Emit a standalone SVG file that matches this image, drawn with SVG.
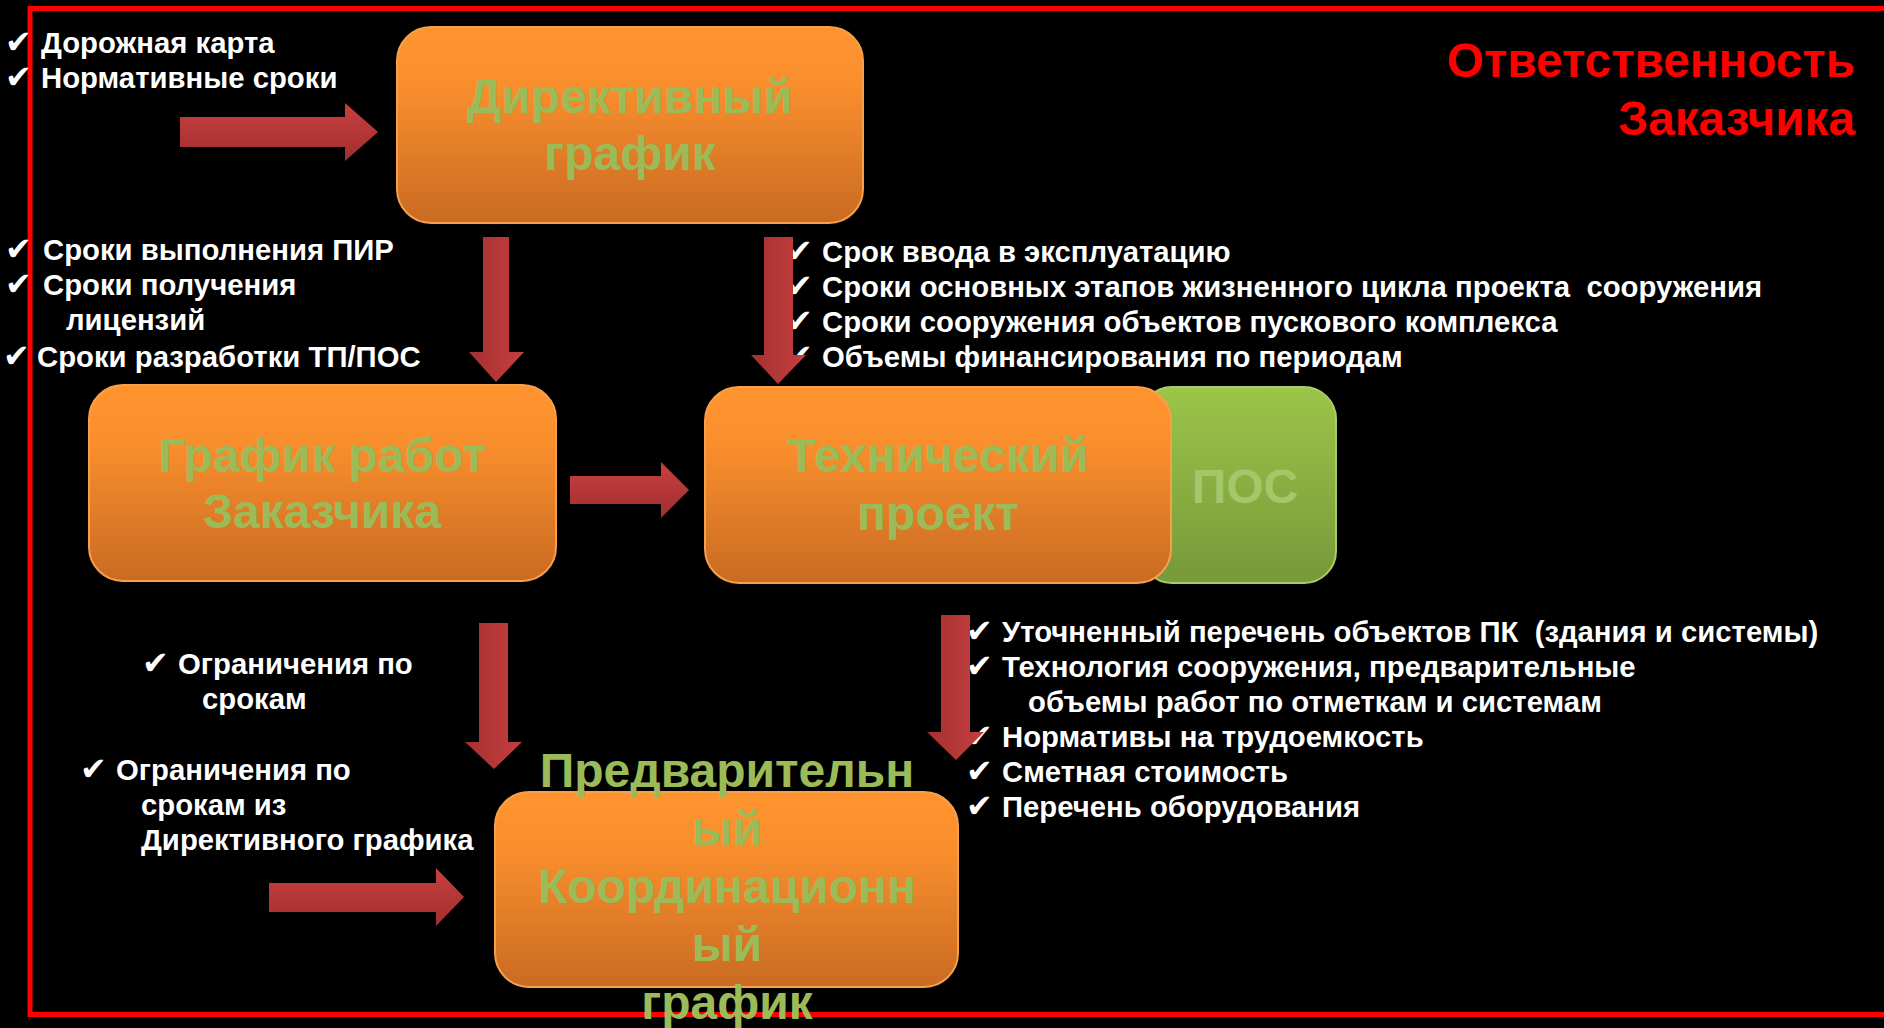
<svg xmlns="http://www.w3.org/2000/svg" width="1884" height="1028" viewBox="0 0 1884 1028">
<defs>
<linearGradient id="gOrange" x1="0" y1="0" x2="0" y2="1">
<stop offset="0" stop-color="#FF942F"/>
<stop offset="0.3" stop-color="#F98E2D"/>
<stop offset="1" stop-color="#C96B22"/>
</linearGradient>
<linearGradient id="gGreen" x1="0" y1="0" x2="0" y2="1">
<stop offset="0" stop-color="#9CC549"/>
<stop offset="1" stop-color="#76993A"/>
</linearGradient>
<linearGradient id="gArrowH" x1="0" y1="0" x2="0" y2="1">
<stop offset="0" stop-color="#C93F3F"/>
<stop offset="1" stop-color="#A02F2F"/>
</linearGradient>
<linearGradient id="gArrowV" x1="0" y1="0" x2="1" y2="0">
<stop offset="0" stop-color="#A33131"/>
<stop offset="1" stop-color="#C63E3E"/>
</linearGradient>
<style>
.frame{fill:none;stroke:#FF0000;stroke-width:5}
.title{font-family:"Liberation Sans",Arial,sans-serif;font-weight:bold;font-size:47.7px;fill:#FF0000;text-anchor:end}
.lbl{font-family:"Liberation Sans",Arial,sans-serif;font-weight:bold;font-size:29.3px;fill:#FFFFFF;white-space:pre}
.chk{font-family:"DejaVu Sans",sans-serif;font-size:32px}
.box{fill:url(#gOrange);stroke:#F7A04C;stroke-width:2}
.gbox{fill:url(#gGreen);stroke:#A9CC6A;stroke-width:2}
.ntext{font-family:"Liberation Sans",Arial,sans-serif;font-weight:bold;font-size:48px;fill:#9BBB59;text-anchor:middle}
.ptext{font-family:"Liberation Sans",Arial,sans-serif;font-weight:bold;font-size:48px;fill:#A5C669;text-anchor:middle}
.arh{fill:url(#gArrowH)}
.arv{fill:url(#gArrowV)}
</style>
</defs>
<rect x="0" y="0" width="1884" height="1028" fill="#000000"/>
<rect class="frame" x="30" y="8.5" width="1900" height="1006"/>

<g id="title">
<text class="title" x="1855" y="77">Ответственность</text>
<text class="title" x="1855" y="135">Заказчика</text>
</g>

<g id="labels">
<text class="lbl" y="53"><tspan class="chk" x="5">✔</tspan><tspan x="41">Дорожная карта</tspan></text>
<text class="lbl" y="88"><tspan class="chk" x="5">✔</tspan><tspan x="41">Нормативные сроки</tspan></text>

<text class="lbl" y="260"><tspan class="chk" x="5">✔</tspan><tspan x="43">Сроки выполнения ПИР</tspan></text>
<text class="lbl" y="295"><tspan class="chk" x="5">✔</tspan><tspan x="43">Сроки получения</tspan></text>
<text class="lbl" x="66" y="330">лицензий</text>
<text class="lbl" y="367"><tspan class="chk" x="3">✔</tspan><tspan x="37">Сроки разработки ТП/ПОС</tspan></text>

<text class="lbl" y="262"><tspan class="chk" x="786">✔</tspan><tspan x="822">Срок ввода в эксплуатацию</tspan></text>
<text class="lbl" y="297"><tspan class="chk" x="786">✔</tspan><tspan x="822">Сроки основных этапов жизненного цикла проекта  сооружения</tspan></text>
<text class="lbl" y="332"><tspan class="chk" x="786">✔</tspan><tspan x="822">Сроки сооружения объектов пускового комплекса</tspan></text>
<text class="lbl" y="367"><tspan class="chk" x="786">✔</tspan><tspan x="822">Объемы финансирования по периодам</tspan></text>

<text class="lbl" y="674"><tspan class="chk" x="142">✔</tspan><tspan x="178">Ограничения по</tspan></text>
<text class="lbl" x="202" y="709">срокам</text>
<text class="lbl" y="780"><tspan class="chk" x="80">✔</tspan><tspan x="116">Ограничения по</tspan></text>
<text class="lbl" x="141" y="815">срокам из</text>
<text class="lbl" x="141" y="850">Директивного графика</text>

<text class="lbl" y="642"><tspan class="chk" x="966">✔</tspan><tspan x="1002">Уточненный перечень объектов ПК  (здания и системы)</tspan></text>
<text class="lbl" y="677"><tspan class="chk" x="966">✔</tspan><tspan x="1002">Технология сооружения, предварительные</tspan></text>
<text class="lbl" x="1028" y="712">объемы работ по отметкам и системам</text>
<text class="lbl" y="747"><tspan class="chk" x="966">✔</tspan><tspan x="1002">Нормативы на трудоемкость</tspan></text>
<text class="lbl" y="782"><tspan class="chk" x="966">✔</tspan><tspan x="1002">Сметная стоимость</tspan></text>
<text class="lbl" y="817"><tspan class="chk" x="966">✔</tspan><tspan x="1002">Перечень оборудования</tspan></text>
</g>

<g id="connectors">
<path class="arh" d="M180,117 H345 V103 L378,132 L345,161 V147 H180 Z"/>
<path class="arv" d="M483,237 H509 V352 H524 L496,382 L469,352 H483 Z"/>
<path class="arv" d="M764,237 H793 V355 H806 L778,384 L751,355 H764 Z"/>
<path class="arh" d="M570,476 H661 V462 L689,490 L661,518 V504 H570 Z"/>
<path class="arv" d="M479,623 H508 V742 H522 L494,769 L465,742 H479 Z"/>
<path class="arh" d="M269,883 H436 V868 L464,897 L436,926 V912 H269 Z"/>
<path class="arv" d="M941,615 H970 V732 H984 L956,760 L927,732 H941 Z"/>
</g>

<g id="node-pos">
<rect class="gbox" x="1140" y="387" width="196" height="196" rx="32"/>
<text class="ptext" x="1245" y="503">ПОС</text>
</g>

<g id="node-directive">
<rect class="box" x="397" y="27" width="466" height="196" rx="34"/>
<text class="ntext" x="630" y="113">Директивный</text>
<text class="ntext" x="630" y="170">график</text>
</g>

<g id="node-customer">
<rect class="box" x="89" y="385" width="467" height="196" rx="34"/>
<text class="ntext" x="322" y="472">График работ</text>
<text class="ntext" x="322" y="528">Заказчика</text>
</g>

<g id="node-tech">
<rect class="box" x="705" y="387" width="466" height="196" rx="34"/>
<text class="ntext" x="938" y="472">Технический</text>
<text class="ntext" x="938" y="530">проект</text>
</g>

<g id="node-coord">
<rect class="box" x="495" y="792" width="463" height="195" rx="34"/>
<text class="ntext" x="727" y="787">Предварительн</text>
<text class="ntext" x="727" y="845">ый</text>
<text class="ntext" x="727" y="903">Координационн</text>
<text class="ntext" x="727" y="961">ый</text>
<text class="ntext" x="727" y="1019">график</text>
</g>
</svg>
